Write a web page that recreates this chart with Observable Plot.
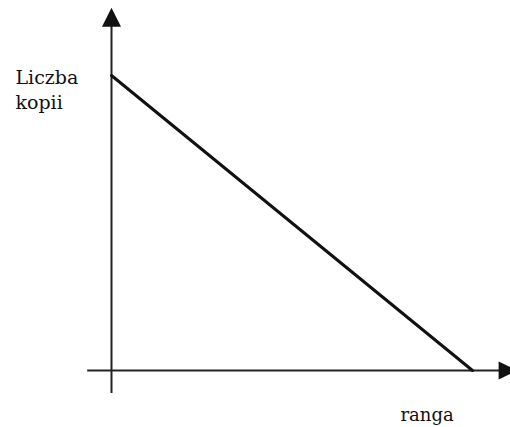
<!DOCTYPE html>
<html>
<head>
<meta charset="utf-8">
<script src="https://cdn.jsdelivr.net/npm/d3@7"></script>
<script src="https://cdn.jsdelivr.net/npm/@observablehq/plot@0.6"></script>
<style>
  html, body { margin: 0; padding: 0; background: #fff; }
</style>
</head>
<body>
<div id="chart"></div>
<script>
// Data (schematic: number of copies vs. rank)
const ranga = [0, 100];
const kopie = [100, 0];
const yLabel = "Liczba\nkopii";
const xLabel = "ranga";
// axis extents in data units
const xAxisExtent = [-6.6, 112.5];
const yAxisExtent = [-7.8, 123];

const points = ranga.map((r, i) => ({r, k: kopie[i]}));

const arrowUp = {draw(ctx) { ctx.moveTo(0, 0); ctx.lineTo(9.5, 19); ctx.lineTo(-9.5, 19); ctx.closePath(); }};
const arrowRight = {draw(ctx) { ctx.moveTo(0, 0); ctx.lineTo(-19, -9); ctx.lineTo(-19, 9); ctx.closePath(); }};
const serif = "DejaVu Serif";

const chart = Plot.plot({
  width: 510,
  height: 427,
  marginLeft: 111,
  marginRight: 38,
  marginTop: 75,
  marginBottom: 57,
  x: {domain: [0, 100], axis: null},
  y: {domain: [0, 100], axis: null},
  style: {background: "#fff", color: "#111", fontFamily: serif},
  marks: [
    Plot.ruleY([0], {x1: xAxisExtent[0], x2: xAxisExtent[1] - 1, stroke: "#222", strokeWidth: 2}),
    Plot.ruleX([0], {y1: yAxisExtent[0], y2: yAxisExtent[1] - 2, stroke: "#222", strokeWidth: 2}),
    Plot.dot([{x: 0, y: yAxisExtent[1]}], {x: "x", y: "y", symbol: arrowUp, fill: "#111", stroke: "none", r: 5}),
    Plot.dot([{x: xAxisExtent[1], y: 0}], {x: "x", y: "y", symbol: arrowRight, fill: "#111", stroke: "none", r: 5}),
    Plot.line(points, {x: "r", y: "k", stroke: "#111", strokeWidth: 3}),
    Plot.text([yLabel], {frameAnchor: "top-left", dx: -96, dy: -9, textAnchor: "start", lineAnchor: "top", fontSize: 19, lineHeight: 1.32, fill: "#111", fontFamily: serif}),
    Plot.text([xLabel], {frameAnchor: "bottom-left", dx: 289, dy: 38, textAnchor: "start", lineAnchor: "top", fontSize: 18, fill: "#111", fontFamily: serif})
  ]
});
document.getElementById("chart").appendChild(chart);
</script>
</body>
</html>
